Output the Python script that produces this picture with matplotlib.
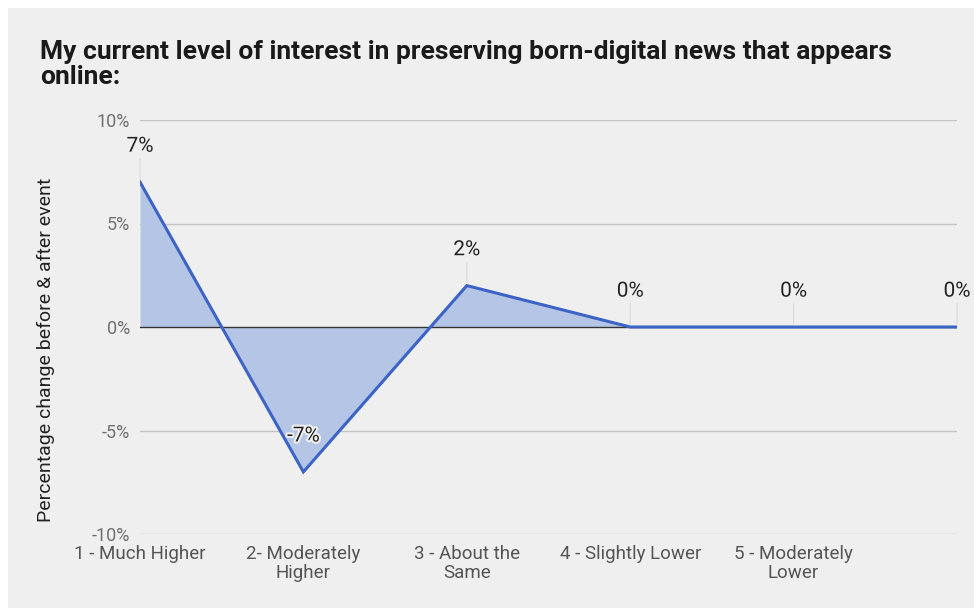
import matplotlib.pyplot as plt
import matplotlib.patheffects as pe
from matplotlib.patches import Rectangle

categories = ["1 - Much Higher", "2- Moderately\nHigher", "3 - About the\nSame",
              "4 - Slightly Lower", "5 - Moderately\nLower", ""]
values = [7, -7, 2, 0, 0, 0]
labels = ["7%", "-7%", "2%", "0%", "0%", "0%"]
yticks = [-10, -5, 0, 5, 10]

BG = "#efefef"
LINE = "#3c63c6"
FILL = "#b4c5e6"

plt.rcParams["font.family"] = ["Roboto", "DejaVu Sans"]

fig = plt.figure(figsize=(9.74, 6.08), dpi=100)
fig.patch.set_facecolor("white")
# gray card, white margin on top and left
fig.patches.append(Rectangle((8 / 974, 0), 1, 1 - 8 / 608, transform=fig.transFigure,
                             facecolor=BG, edgecolor="none", zorder=-10))

ax = fig.add_axes([140 / 974, 74 / 608, 817 / 974, 414 / 608])
ax.set_facecolor(BG)
ax.patch.set_alpha(0)

x = list(range(len(values)))
ax.fill_between(x, values, 0, color=FILL, linewidth=0, zorder=2)
ax.plot(x, values, color=LINE, linewidth=2.2, zorder=4, solid_joinstyle="miter")

for yv in yticks:
    if yv == 0:
        ax.axhline(0, color="#333333", linewidth=1.0, zorder=3)
    else:
        ax.axhline(yv, color="#c4c4c4", linewidth=1.0, zorder=1)

ax.set_xlim(0, 5)
ax.set_ylim(-10, 10)
ax.set_yticks(yticks)
ax.set_yticklabels([f"{v}%" for v in yticks], color="#707070", fontsize=13)
ax.set_xticks(x)
ax.set_xticklabels(categories, color="#555555", fontsize=13.5, linespacing=1.05)
ax.tick_params(axis="both", length=0)
ax.tick_params(axis="y", pad=7)
ax.tick_params(axis="x", pad=8)
for s in ax.spines.values():
    s.set_visible(False)

for xi, yi, lab in zip(x, values, labels):
    ax.annotate("", xy=(xi, yi), xytext=(0, 19), textcoords="offset points",
                arrowprops=dict(arrowstyle="-", color="#d8d8d8", lw=0.8), zorder=1.5)
    ax.annotate(lab, xy=(xi, yi), xytext=(0, 19), textcoords="offset points",
                ha="center", va="bottom", fontsize=15, color="#222222", zorder=5,
                path_effects=[pe.withStroke(linewidth=3, foreground=BG)],
                annotation_clip=False)

ax.set_ylabel("Percentage change before & after event", fontsize=14, color="#222222")
ax.yaxis.set_label_coords(-85 / 817, 184 / 414)

fig.text(40 / 974, 1 - 40 / 608,
         "My current level of interest in preserving born-digital news that appears\nonline:",
         fontsize=19, fontweight="bold", color="#1a1a1a", ha="left", va="top",
         linespacing=1.05)

fig.savefig("out.png", dpi=100, facecolor=fig.get_facecolor())
